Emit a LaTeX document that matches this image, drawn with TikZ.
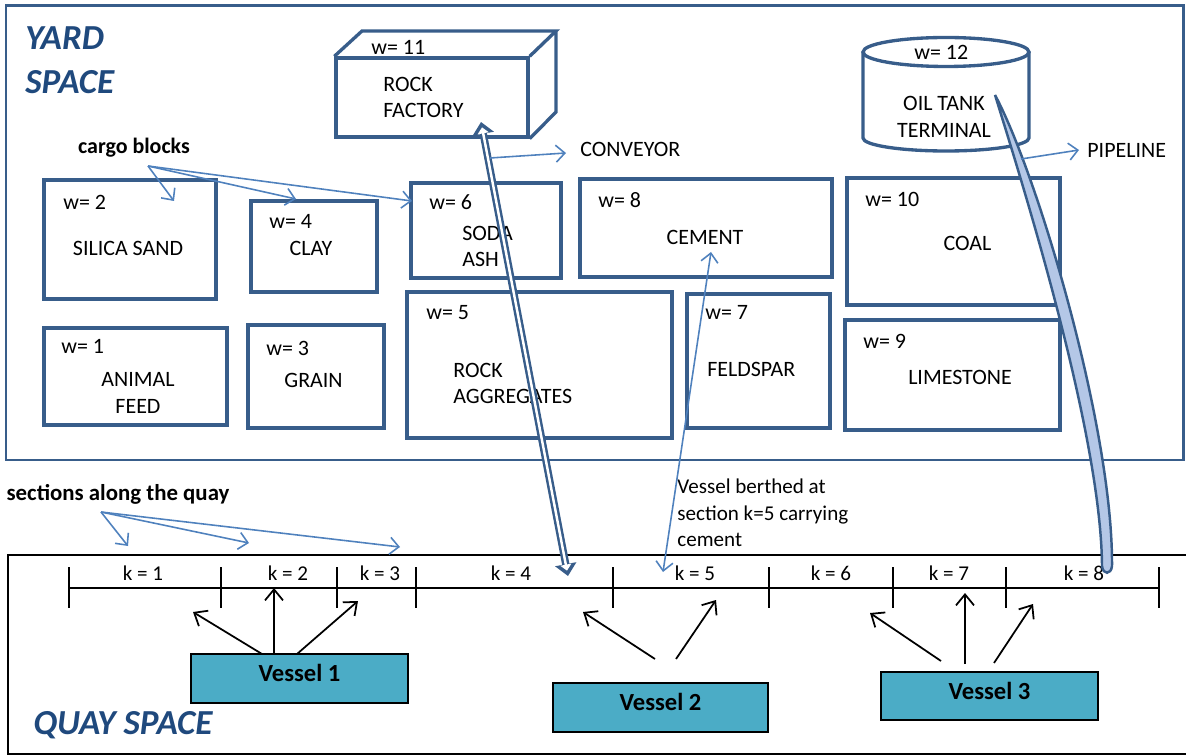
\documentclass[tikz,border=0pt]{standalone}
\usepackage{fontspec}
\setmainfont{Carlito}
\usetikzlibrary{arrows.meta}
\definecolor{frameblue}{RGB}{56,93,138}
\definecolor{arrowblue}{RGB}{79,129,189}
\definecolor{pipefill}{RGB}{180,199,231}
\definecolor{vesselteal}{RGB}{75,172,198}
\definecolor{titleblue}{RGB}{31,73,125}

\begin{document}
\begin{tikzpicture}[x=0.02cm,y=-0.02cm,
    txt/.style={font=\fontsize{12.5}{15.3}\selectfont,inner sep=0pt,align=center},
    wlab/.style={txt,anchor=west},
    title/.style={font=\fontsize{20}{24.8}\bfseries\itshape\selectfont,text=titleblue,inner sep=0pt,align=left,anchor=west},
    blk/.style={draw=frameblue,line width=1.9pt,inner sep=0pt},
    vessel/.style={draw=black,line width=1pt,fill=vesselteal,inner sep=0pt,text depth=6pt,
        font=\fontsize{14}{16}\bfseries\selectfont}]
    \useasboundingbox (0,0) rectangle (1186,756);

    \draw[frameblue,line width=1.7pt] (6,6) rectangle (1183,460);
    \draw[black,line width=1.7pt] (8,555) rectangle (1200,754);

    \node[title] (yard) at (25,60) {YARD\\SPACE};
    \node[title] (quay) at (33,725) {QUAY SPACE};

    \begin{scope}[every node/.style={blk}]
      \node (silica) at (130,239.5) [minimum width=3.44cm,minimum height=2.38cm] {};
      \node (clay) at (314,246.5) [minimum width=2.52cm,minimum height=1.82cm] {};
      \node (soda) at (486,230.5) [minimum width=3cm,minimum height=1.9cm] {};
      \node (cement) at (706,228) [minimum width=5.04cm,minimum height=1.96cm] {};
      \node (coal) at (953.5,241.5) [minimum width=4.26cm,minimum height=2.54cm] {};
      \node (feed) at (135.5,376.5) [minimum width=3.66cm,minimum height=1.94cm] {};
      \node (grain) at (316,376.5) [minimum width=2.72cm,minimum height=2.06cm] {};
      \node (aggr) at (539.5,365) [minimum width=5.3cm,minimum height=2.92cm] {};
      \node (feldspar) at (758.5,361) [minimum width=2.86cm,minimum height=2.68cm] {};
      \node (lime) at (952.5,375) [minimum width=4.3cm,minimum height=2.2cm] {};
      \node (factory) at (432,97.5) [minimum width=3.84cm,minimum height=1.58cm] {};
    \end{scope}

    \draw[blk,line join=miter] (factory.north west) -- (362,31) -- (556,31) -- (factory.north east)
        (556,31) -- (556,112) -- (factory.south east);
    \draw[blk] (946,52) ellipse [x radius=1.66cm,y radius=0.29cm];
    \draw[blk] (863,52) -- (863,138) arc[start angle=180,end angle=360,x radius=1.66cm,y radius=0.26cm] -- (1029,52);

    \begin{scope}[every node/.style={wlab}]
      \node (w1) at (61,346) {w= 1};
      \node (w2) at (63,202) {w= 2};
      \node (w3) at (266,348) {w= 3};
      \node (w4) at (269,221) {w= 4};
      \node (w5) at (426,313) {w= 5};
      \node (w6) at (429,202) {w= 6};
      \node (w7) at (705,312) {w= 7};
      \node (w8) at (598,200) {w= 8};
      \node (w9) at (863,341) {w= 9};
      \node (w10) at (865,199) {w= 10};
      \node (w11) at (371,47) {w= 11};
      \node (w12) at (914,52) {w= 12};
    \end{scope}

    \begin{scope}[every node/.style={txt}]
      \node (silicalab) at (128,248) {SILICA SAND};
      \node (claylab) at (311,248) {CLAY};
      \node (sodalab) at (462,246.5) [anchor=west,align=left] {SODA\\ASH};
      \node (cementlab) at (705,237) {CEMENT};
      \node (coallab) at (967.5,243) {COAL};
      \node (feedlab) at (138,393) {ANIMAL\\FEED};
      \node (grainlab) at (313.5,380) {GRAIN};
      \node (aggrlab) at (453,383.5) [anchor=west,align=left] {ROCK\\AGGREGATES};
      \node (feldsparlab) at (707,369) [anchor=west] {FELDSPAR};
      \node (limelab) at (960,377) {LIMESTONE};
      \node (factorylab) at (383,97.5) [anchor=west,align=left] {ROCK\\FACTORY};
      \node (tanklab) at (944,116.5) {OIL TANK\\TERMINAL};
      \node (conveyor) at (580,149) [anchor=west] {CONVEYOR};
      \node (pipeline) at (1087,150) [anchor=west] {PIPELINE};
      \node (cargo) at (134,148) [font=\fontsize{12.5}{15}\bfseries\selectfont] {cargo blocks};
      \node (sections) at (118,494) [font=\fontsize{13}{15}\bfseries\selectfont] {sections along the quay};
      \node (berthed) at (677,513) [anchor=west,align=left,font=\fontsize{12}{15}\selectfont]
          {Vessel berthed at\\section k=5 carrying\\cement};
    \end{scope}

    \foreach \x [count=\i] in {69,221,337,416,613,769,893,1006,1159} {
      \coordinate (t\i) at (\x,588);
      \draw[line width=0.6pt] (\x,567) -- (\x,608);
    }
    \draw[line width=0.6pt] (t1) -- (t9);
    \foreach \x/\k in {143/1,288/2,380/3,511/4,695/5,831/6,949/7,1084/8}
      \node[txt,font=\fontsize{12}{14}\selectfont] (k\k) at (\x,573) {k = \k};

    \node[vessel,minimum width=4.34cm,minimum height=0.98cm] (v1) at (299.5,678.5) {Vessel 1};
    \node[vessel,minimum width=4.3cm,minimum height=0.98cm] (v2) at (660.5,707.5) {Vessel 2};
    \node[vessel,minimum width=4.34cm,minimum height=0.96cm] (v3) at (989.5,696) {Vessel 3};

    \coordinate (cb) at (148,166);
    \coordinate (cb1) at (174,201);
    \coordinate (cb2) at (296,199);
    \coordinate (cb3) at (412,201);
    \coordinate (sq) at (101,512);
    \coordinate (sq1) at (128,546);
    \coordinate (sq2) at (249,543);
    \coordinate (sq3) at (400,547);
    \coordinate (rf) at (481,122);
    \coordinate (q4) at (568,576);
    \coordinate (cv) at (490,158);
    \coordinate (cvend) at (566,153);
    \coordinate (pt) at (995,95);
    \coordinate (pb) at (1107,568);
    \coordinate (pl) at (1021,159);
    \coordinate (plend) at (1079,150);
    \coordinate (cm) at (711,252);
    \coordinate (q5) at (663,572);

    \filldraw[draw=frameblue,fill=pipefill,line width=1.4pt] (pt)
        .. controls (1021,179) and (1101,432) .. (1102,566)
        .. controls (1103,575) and (1111,575) .. (1112,566)
        .. controls (1113,428) and (1037,173) .. (pt) -- cycle;

    \draw[frameblue,line width=4.2pt,{Triangle[length=2.4mm,width=4.2mm]}-{Triangle[length=2.4mm,width=4.2mm]}] (rf) -- (q4);
    \draw[white,line width=1.4pt,shorten <=1.1mm,shorten >=1.1mm,
        {Triangle[length=1.2mm,width=2.2mm]}-{Triangle[length=1.2mm,width=2.2mm]}] (rf) -- (q4);

    \begin{scope}[>={Straight Barb[length=1.8mm,width=3.4mm]},
        every edge/.style={draw=arrowblue,line width=0.9pt}]
      \path [->] (cb) edge (cb1) edge (cb2) edge (cb3);
      \path [->] (sq) edge (sq1) edge (sq2) edge (sq3);
      \path [->] (cv) edge (cvend);
      \path [->] (pl) edge (plend);
      \path [<->] (q5) edge (cm);
    \end{scope}

    \coordinate (a11) at (262,654);
    \coordinate (a12) at (274,654);
    \coordinate (a13) at (297,654);
    \coordinate (b11) at (193,612);
    \coordinate (b12) at (274,588);
    \coordinate (b13) at (358,601);
    \coordinate (a21) at (655,659);
    \coordinate (a22) at (676,659);
    \coordinate (b21) at (583,612);
    \coordinate (b22) at (716,600);
    \coordinate (a31) at (941,661);
    \coordinate (a32) at (965,664);
    \coordinate (a33) at (994,663);
    \coordinate (b31) at (870,613);
    \coordinate (b32) at (965,593);
    \coordinate (b33) at (1033,604);

    \begin{scope}[>={Straight Barb[length=2.2mm,width=3.6mm]},
        every edge/.style={draw=black,line width=1pt}]
      \path [->] (a11) edge (b11);
      \path [->] (a12) edge (b12);
      \path [->] (a13) edge (b13);
      \path [->] (a21) edge (b21);
      \path [->] (a22) edge (b22);
      \path [->] (a31) edge (b31);
      \path [->] (a32) edge (b32);
      \path [->] (a33) edge (b33);
    \end{scope}
\end{tikzpicture}
\end{document}
